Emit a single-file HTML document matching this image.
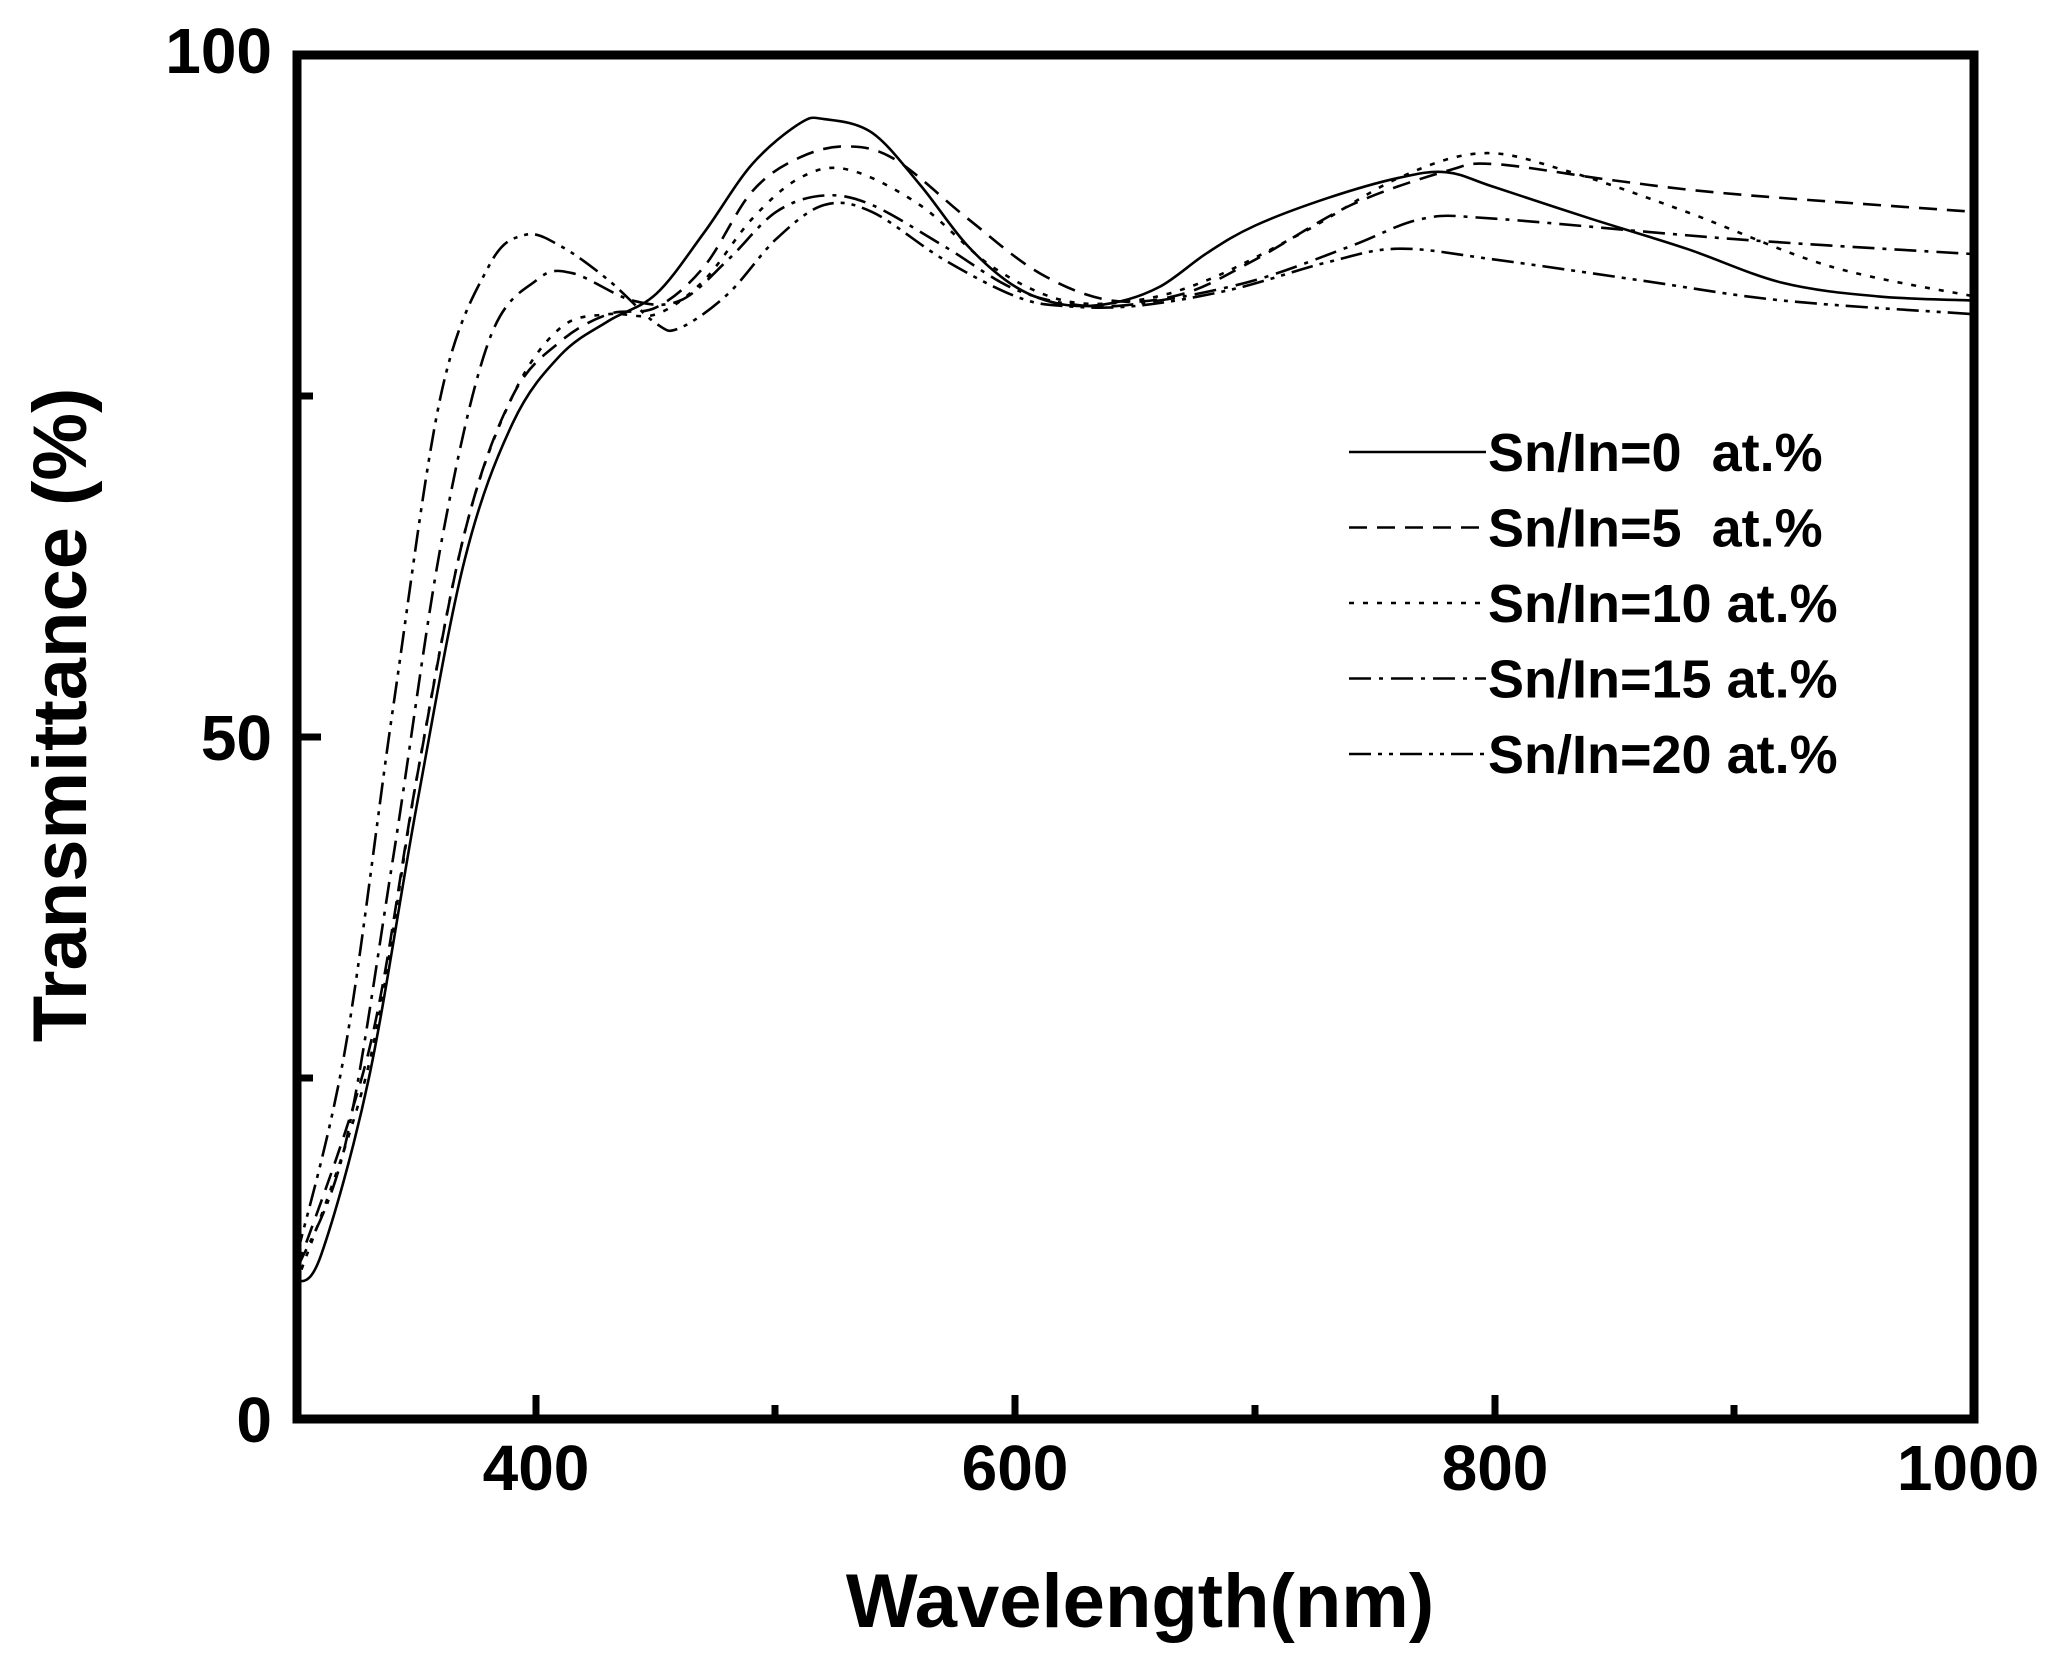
<!DOCTYPE html>
<html><head><meta charset="utf-8"><style>
html,body{margin:0;padding:0;background:#fff;}
svg{display:block;}
text{font-family:"Liberation Sans",Arial,sans-serif;fill:#000;}
</style></head><body>
<svg id="s" width="2067" height="1673" viewBox="0 0 2067 1673" xmlns="http://www.w3.org/2000/svg">
<rect width="2067" height="1673" fill="#fff"/>
<g id="curves" fill="none" stroke="#000" stroke-width="2.6"></g>
<rect x="297" y="55" width="1677" height="1364" fill="none" stroke="#000" stroke-width="9"/>
<g stroke="#000" stroke-width="7">
<line x1="536" y1="1419" x2="536" y2="1395"/>
<line x1="775" y1="1419" x2="775" y2="1405"/>
<line x1="1015" y1="1419" x2="1015" y2="1395"/>
<line x1="1255" y1="1419" x2="1255" y2="1405"/>
<line x1="1495" y1="1419" x2="1495" y2="1395"/>
<line x1="1734" y1="1419" x2="1734" y2="1405"/>
<line x1="297" y1="396" x2="313" y2="396"/>
<line x1="297" y1="737" x2="321" y2="737"/>
<line x1="297" y1="1078" x2="313" y2="1078"/>
</g>
<g font-size="64" font-weight="bold" text-anchor="middle">
<text x="536" y="1490">400</text>
<text x="1015" y="1490">600</text>
<text x="1495" y="1490">800</text>
<text x="1968" y="1490">1000</text>
</g>
<g font-size="64" font-weight="bold" text-anchor="end">
<text x="272" y="73">100</text>
<text x="272" y="760">50</text>
<text x="272" y="1442">0</text>
</g>
<text x="1140" y="1627" font-size="76" font-weight="bold" text-anchor="middle">Wavelength(nm)</text>
<text transform="translate(86,715) rotate(-90)" font-size="76" font-weight="bold" text-anchor="middle">Transmittance (%)</text>
<g id="legend" font-size="54" font-weight="bold"></g>
</svg>
<script>
var X=function(nm){return 297+(nm-300)*1677/700;};
var Y=function(p){return 1419-p*13.64;};
var data=[
[[300,10],[310,12],[330,25],[350,45],[370,63],[390,73],[410,78],[430,80.5],[450,82.5],[470,87],[490,92],[510,95],[520,95.3],[540,94.3],[560,90.5],[580,86],[600,83],[620,81.7],[640,81.8],[660,83],[680,85.5],[700,87.5],[730,89.5],[760,91],[780,91.4],[800,90.3],[840,88],[880,85.8],[920,83.3],[960,82.3],[1000,82]],
[[300,11],[330,27],[350,47],[370,65],[390,75],[410,79],[430,81],[450,81.5],[470,84.5],[490,90],[510,92.5],[530,93.3],[550,92.3],[580,88],[610,84],[640,82],[670,82.5],[700,85],[740,89],[780,91.5],[800,92],[850,90.8],[900,89.8],[1000,88.5]],
[[300,10],[330,26],[350,47],[370,65],[390,75],[410,80],[430,81],[450,81],[470,83.5],[490,88],[510,91],[530,91.6],[560,89],[590,84.5],[620,82],[650,82],[680,83.5],[720,87],[760,91],[795,92.8],[830,91.5],[880,88.5],[940,84.5],[1000,82.3]],
[[300,11],[320,20],[340,41],[360,64],[380,79],[400,83.5],[415,84],[440,82],[460,82],[480,85],[500,88.5],[520,89.7],[540,89],[570,86],[600,82.8],[630,81.6],[660,82],[700,83.5],[740,86],[770,88],[800,88],[900,86.5],[1000,85.4]],
[[300,12],[320,27],[340,52],[360,75],[380,84.5],[395,86.8],[410,86],[430,83.5],[450,80.3],[460,80],[480,82.5],[500,86.5],[520,89],[540,88.5],[570,85],[600,82.3],[620,81.6],[650,81.6],[690,82.8],[730,84.8],[760,85.8],[800,85],[860,83.5],[920,82],[1000,81]]
];
var dashes=["none","18 10","5 9","22 8 4 8","22 7 4 7 4 7"];
var labels=["Sn/In=0  at.%","Sn/In=5  at.%","Sn/In=10 at.%","Sn/In=15 at.%","Sn/In=20 at.%"];
var ns="http://www.w3.org/2000/svg";
var g=document.getElementById("curves"),lg=document.getElementById("legend");
data.forEach(function(d,i){
  var p=d.map(function(q){return [X(q[0]),Y(q[1])];});
  var s="M"+p[0][0].toFixed(1)+","+p[0][1].toFixed(1);
  for(var k=0;k<p.length-1;k++){
    var p0=p[k-1]||p[k],p1=p[k],p2=p[k+1],p3=p[k+2]||p2;
    var c1=[p1[0]+(p2[0]-p0[0])/6,p1[1]+(p2[1]-p0[1])/6];
    var c2=[p2[0]-(p3[0]-p1[0])/6,p2[1]-(p3[1]-p1[1])/6];
    s+="C"+c1.map(function(v){return v.toFixed(1)}).join(",")+" "+c2.map(function(v){return v.toFixed(1)}).join(",")+" "+p2[0].toFixed(1)+","+p2[1].toFixed(1);
  }
  var e=document.createElementNS(ns,"path");e.setAttribute("d",s);
  if(dashes[i]!="none")e.setAttribute("stroke-dasharray",dashes[i]);
  g.appendChild(e);
  var y=452+i*75.5;
  var l=document.createElementNS(ns,"line");
  l.setAttribute("x1",1349);l.setAttribute("x2",1486);l.setAttribute("y1",y);l.setAttribute("y2",y);
  l.setAttribute("stroke","#000");l.setAttribute("stroke-width","2.6");
  if(dashes[i]!="none")l.setAttribute("stroke-dasharray",dashes[i]);
  lg.appendChild(l);
  var t=document.createElementNS(ns,"text");
  t.setAttribute("x",1488);t.setAttribute("y",y+19);t.setAttribute("xml:space","preserve");
  t.style.whiteSpace="pre";t.textContent=labels[i];
  lg.appendChild(t);
});
</script>
</body></html>
